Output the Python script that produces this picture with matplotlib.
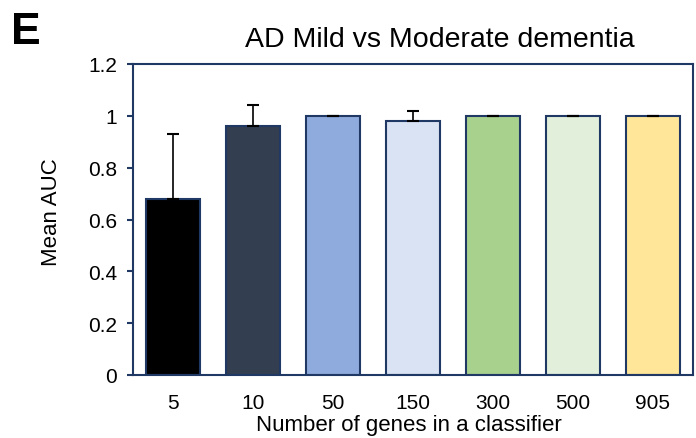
import numpy as np
import matplotlib
matplotlib.use("Agg")
import matplotlib.pyplot as plt

plt.rcParams['font.family'] = ['Liberation Sans', 'DejaVu Sans']

genes = ["5", "10", "50", "150", "300", "500", "905"]
mean_auc = [0.68, 0.96, 1.0, 0.98, 1.0, 1.0, 1.0]
auc_err = [0.25, 0.08, 0.0, 0.04, 0.0, 0.0, 0.0]
bar_colors = ["#000000", "#333F50", "#8FAADC", "#DAE3F3", "#A9D18E", "#E2EFDA", "#FFE699"]

navy = "#1F3864"

fig = plt.figure(figsize=(6.96, 4.39), dpi=100)
ax = fig.add_axes([133/696, 1 - 376/439, 560/696, 311/439])

x = np.arange(len(genes))
ax.bar(x, mean_auc, width=0.675, color=bar_colors, edgecolor=navy, linewidth=1.5, zorder=2)
ax.errorbar(x, mean_auc, yerr=[np.zeros(len(x)), auc_err], fmt='none', ecolor='black',
            elinewidth=1.2, capsize=4, capthick=1.5, zorder=3)

ax.set_xlim(-0.5, len(genes) - 0.5)
ax.set_ylim(0, 1.2)
ax.set_yticks([0, 0.2, 0.4, 0.6, 0.8, 1, 1.2])
ax.set_yticklabels(["0", "0.2", "0.4", "0.6", "0.8", "1", "1.2"])
ax.set_xticks(x)
ax.set_xticklabels(genes)
ax.tick_params(axis='y', length=4.5, width=1.5, color=navy, labelsize=15, pad=7)
ax.tick_params(axis='x', length=0, labelsize=15, pad=13)
for s in ax.spines.values():
    s.set_color(navy)
    s.set_linewidth(1.5)

ax.set_xlabel("Number of genes in a classifier", fontsize=16, va='baseline')
ax.xaxis.set_label_coords(0.492, -(431 - 376) / 311)
ax.set_ylabel("Mean AUC", fontsize=16, va='center')
ax.yaxis.set_label_coords((52 - 133) / 560, (376 - 212) / 311)

fig.text(440/696, 1 - 47/439, "AD Mild vs Moderate dementia", fontsize=20.5, ha='center', va='baseline')
fig.text(11/696, 1 - 44/439, "E", fontsize=32, fontweight='bold', ha='left', va='baseline')

fig.savefig("out.png", dpi=100)
